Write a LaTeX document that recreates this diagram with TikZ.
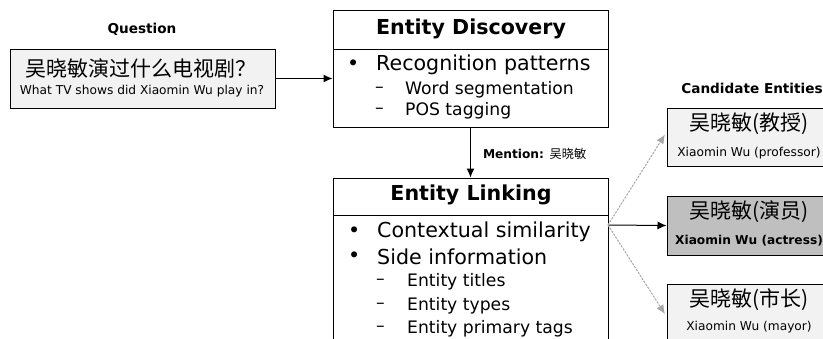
\documentclass[tikz,border=0pt]{standalone}
\usepackage{fontspec}
\setmainfont{DejaVu Sans}
\newfontfamily\cjk{Noto Sans CJK SC}
\usetikzlibrary{arrows.meta}
\begin{document}
\begin{tikzpicture}[x=1pt,y=-1pt,
  box/.style={draw=black, line width=1pt, inner sep=0pt},
  lightbox/.style={box, fill=black!5},
  darkbox/.style={box, fill=black!25},
  heading/.style={font=\fontsize{13.6}{16}\selectfont\bfseries, inner sep=0pt},
  titletext/.style={font=\fontsize{20.6}{24}\selectfont\bfseries, inner sep=0pt},
  itemtext/.style={font=\fontsize{20.6}{24}\selectfont, anchor=west, inner sep=0pt},
  subtext/.style={font=\fontsize{17.2}{20}\selectfont, anchor=west, inner sep=0pt},
  smalltext/.style={font=\fontsize{12.2}{14}\selectfont, inner sep=0pt},
  cjktext/.style={font=\cjk\fontsize{21}{24}\selectfont, inner sep=0pt},
  flow/.style={-{Latex[length=9pt,width=8pt]}, line width=1pt},
  option/.style={-{Latex[length=9pt,width=8pt]}, draw=black!35, fill=black!35,
    dash pattern=on 2pt off 1.5pt, line width=1pt, shorten >=3pt}
]
\useasboundingbox (0,0) rectangle (823,338);

% Question
\node[heading] (qlabel) at (142,29) {Question};
\node[lightbox, minimum width=265pt, minimum height=59pt] (q) at (142.5,78.5) {};
\node[cjktext] (qzh) at (141,68) {吴晓敏演过什么电视剧？};
\node[smalltext] (qen) at (142,91) {What TV shows did Xiaomin Wu play in?};

% Entity discovery
\node[box, minimum width=275pt, minimum height=117pt] (ed) at (470.5,68.5) {};
\draw[line width=1pt] (333,49.5) coordinate (edl) -- (608,49.5) coordinate (edr);
\node[titletext] (edtitle) at (471,29) {Entity Discovery};
\node[itemtext] (edb1) at (347,65) {•};
\node[itemtext] (edi1) at (376,65) {Recognition patterns};
\node[subtext] (edd1) at (375,90) {–};
\node[subtext] (eds1) at (405,90) {Word segmentation};
\node[subtext] (edd2) at (375,111) {–};
\node[subtext] (eds2) at (405,111) {POS tagging};

% Entity linking
\node[box, minimum width=275pt, minimum height=170pt] (el) at (470.5,263) {};
\draw[line width=1pt] (333,215) coordinate (ell) -- (608,215) coordinate (elr);
\node[titletext] (eltitle) at (471,195) {Entity Linking};
\node[itemtext] (elb1) at (348,232) {•};
\node[itemtext] (eli1) at (377,232) {Contextual similarity};
\node[itemtext] (elb2) at (348,257) {•};
\node[itemtext] (eli2) at (377,257) {Side information};
\node[subtext] (eld1) at (376,282) {–};
\node[subtext] (els1) at (407,282) {Entity titles};
\node[subtext] (eld2) at (376,306) {–};
\node[subtext] (els2) at (407,306) {Entity types};
\node[subtext] (eld3) at (376,329) {–};
\node[subtext] (els3) at (407,329) {Entity primary tags};

% Candidate entities
\node[heading] (clabel) at (752,88) {Candidate Entities};
\node[lightbox, minimum width=166pt, minimum height=58pt] (c1) at (750,137) {};
\node[cjktext] (c1zh) at (749,124) {吴晓敏(教授)};
\node[smalltext] (c1en) at (749,153) {Xiaomin Wu (professor)};
\node[darkbox, minimum width=166pt, minimum height=59pt] (c2) at (750,225.5) {};
\node[cjktext] (c2zh) at (749,212) {吴晓敏(演员)};
\node[smalltext, font=\fontsize{12.2}{14}\selectfont\bfseries] (c2en) at (749,241) {Xiaomin Wu (actress)};
\node[lightbox, minimum width=166pt, minimum height=59pt] (c3) at (750,313.5) {};
\node[cjktext] (c3zh) at (749,300) {吴晓敏(市长)};
\node[smalltext] (c3en) at (749,327) {Xiaomin Wu (mayor)};

% Connectors
\draw[flow] (q.east) -- (ed.west |- q.east);
\draw[flow] (ed.south) -- (el.north)
  node[pos=0.53, right=12pt, smalltext, anchor=west] (mention) {\bfseries Mention: \normalfont{\cjk 吴晓敏}};
\coordinate (fork) at (608,225);
\draw[flow] (fork) -- (c2.west);
\draw[option] (fork) -- ([yshift=5pt]c1.west);
\draw[option] (fork) -- ([yshift=-3pt]c3.west);
\end{tikzpicture}
\end{document}
